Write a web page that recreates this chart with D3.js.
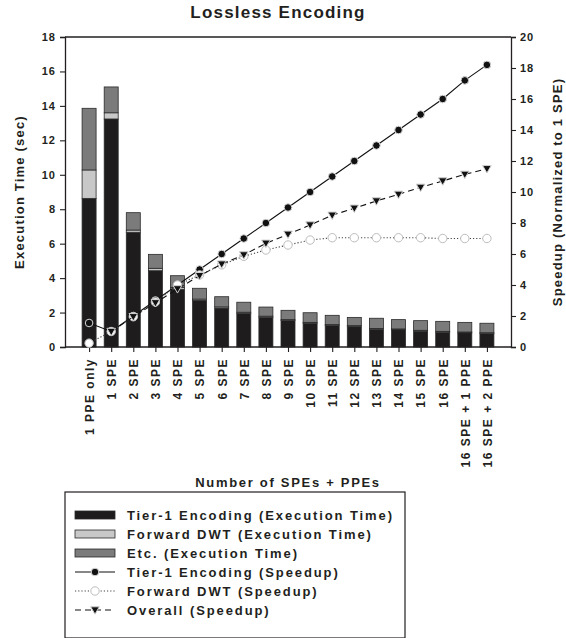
<!DOCTYPE html>
<html><head><meta charset="utf-8">
<script src="https://cdn.jsdelivr.net/npm/d3@7"></script>
<style>
body{margin:0;background:#fff;}
text{font-family:"Liberation Sans",Arial,sans-serif;font-weight:bold;fill:#231f20;}
</style></head>
<body><svg id="c" width="566" height="638"></svg>
<script>
const categories = ["1 PPE only","1 SPE","2 SPE","3 SPE","4 SPE","5 SPE","6 SPE","7 SPE","8 SPE","9 SPE","10 SPE","11 SPE","12 SPE","13 SPE","14 SPE","15 SPE","16 SPE","16 SPE + 1 PPE","16 SPE + 2 PPE"];
const tier1Time = [8.63,13.24,6.66,4.43,3.35,2.70,2.26,1.96,1.73,1.54,1.38,1.25,1.19,1.03,1.00,0.92,0.86,0.82,0.78];
const fdwtTime  = [1.65,0.36,0.13,0.14,0.10,0.08,0.07,0.06,0.06,0.05,0.05,0.05,0.05,0.05,0.05,0.05,0.05,0.05,0.05];
const etcTime   = [3.58,1.50,1.01,0.81,0.69,0.63,0.59,0.58,0.53,0.54,0.56,0.54,0.48,0.59,0.54,0.56,0.58,0.56,0.55];
const tier1Speedup = [1.55,1,2,3,4,5,6,7,8,9,10,11,12,13,14,15,16,17.2,18.2];
const fdwtSpeedup  = [0.25,1.0,1.95,2.9,4.0,4.65,5.3,5.85,6.26,6.58,6.9,7.05,7.05,7.05,7.05,7.05,7.0,7.0,7.0];
const overallSpeedup = [null,1.0,1.95,2.85,3.75,4.6,5.35,5.94,6.69,7.27,7.87,8.5,8.95,9.42,9.85,10.3,10.71,11.14,11.5];
const leftTicks = [0,2,4,6,8,10,12,14,16,18];
const rightTicks = [0,2,4,6,8,10,12,14,16,18,20];
const seriesNames = ["Tier-1 Encoding (Execution Time)","Forward DWT (Execution Time)","Etc. (Execution Time)","Tier-1 Encoding (Speedup)","Forward DWT (Speedup)","Overall (Speedup)"];

const svg = d3.select("#c");
const L=65, R=511, T=37, B=347;
const ink="#231f20";
const x = d3.scalePoint().domain(categories).range([L,R]).padding(1.09);
const yL = d3.scaleLinear().domain([0,18]).range([B,T]);
const yR = d3.scaleLinear().domain([0,20]).range([B,T]);
const colors = {t:"#1f1c1d", f:"#c8c8c8", e:"#7b7b7b"};

// bars
const rows = categories.map((c,i)=>({cat:c,t:tier1Time[i],f:fdwtTime[i],e:etcTime[i]}));
const stack = d3.stack().keys(["t","f","e"])(rows);
const bw = 14;
svg.append("g").selectAll("g").data(stack).join("g")
  .attr("fill",d=>colors[d.key])
  .selectAll("rect").data(d=>d).join("rect")
  .attr("x",d=>x(d.data.cat)-bw/2).attr("width",bw)
  .attr("y",d=>yL(d[1])).attr("height",d=>yL(d[0])-yL(d[1]))
  .attr("stroke","#2a2a2a").attr("stroke-width",0.8);

// axes
const gl = svg.append("g").attr("transform",`translate(${L},0)`)
  .call(d3.axisLeft(yL).tickValues(leftTicks).tickSize(5).tickPadding(4));
const gr = svg.append("g").attr("transform",`translate(${R},0)`)
  .call(d3.axisRight(yR).tickValues(rightTicks).tickSize(5).tickPadding(4));
const gx = svg.append("g").attr("transform",`translate(0,${B})`)
  .call(d3.axisBottom(x).tickSize(5).tickPadding(4));
[gl,gr,gx].forEach(g=>{
  g.selectAll("path").attr("stroke",ink).attr("stroke-width",1.3);
  g.selectAll("line").attr("stroke",ink).attr("stroke-width",1.1);
  g.selectAll("text").attr("font-family","Liberation Sans, Arial, sans-serif").attr("font-weight","bold").attr("fill",ink);
});
gl.selectAll("text").attr("font-size",11).style("letter-spacing","1px");
gr.selectAll("text").attr("font-size",11).style("letter-spacing","1px");
gx.select(".domain").attr("d",`M${L},0H${R}`);
gx.selectAll("text").attr("font-size",12).style("letter-spacing","1.5px")
  .attr("text-anchor","end").attr("transform","rotate(-90)")
  .attr("x",-11).attr("y",0).attr("dy","0.36em");
svg.append("line").attr("x1",L).attr("x2",R).attr("y1",T).attr("y2",T).attr("stroke",ink).attr("stroke-width",1.3);

// lines
function drawSeries(vals, dash, color, marker){
  const pts = vals.map((v,i)=>({c:categories[i],v})).filter(d=>d.v!=null);
  const line = d3.line().x(d=>x(d.c)).y(d=>yR(d.v));
  svg.append("path").datum(pts).attr("d",line).attr("fill","none")
    .attr("stroke",color).attr("stroke-width",1.1).attr("stroke-dasharray",dash);
  const g = svg.append("g");
  pts.forEach(d=>marker(g, x(d.c), yR(d.v)));
}
const mCircleB=(g,cx,cy)=>g.append("circle").attr("cx",cx).attr("cy",cy).attr("r",3.8).attr("fill","#111").attr("stroke","#d8d8d8").attr("stroke-width",1);
const mCircleW=(g,cx,cy)=>g.append("circle").attr("cx",cx).attr("cy",cy).attr("r",4.2).attr("fill","#fff").attr("stroke","#bdbdbd").attr("stroke-width",1);
const mTri=(g,cx,cy)=>g.append("path").attr("d",`M${cx-4.3},${cy-3.2}L${cx+4.3},${cy-3.2}L${cx},${cy+4.2}Z`).attr("fill","#111").attr("stroke","#d0d0d0").attr("stroke-width",1);
drawSeries(tier1Speedup, null, "#111", mCircleB);
drawSeries(fdwtSpeedup, "1.2,2", "#444", mCircleW);
drawSeries(overallSpeedup, "6,4", "#111", mTri);

// titles
svg.append("text").attr("x",278).attr("y",18).attr("text-anchor","middle").attr("font-size",17).style("letter-spacing","1.2px").text("Lossless Encoding");
svg.append("text").attr("transform",`translate(19,${(T+B)/2}) rotate(-90)`).attr("text-anchor","middle").attr("dy","0.35em").attr("font-size",13).style("letter-spacing","1.2px").text("Execution Time (sec)");
svg.append("text").attr("transform",`translate(557,${(T+B)/2}) rotate(-90)`).attr("text-anchor","middle").attr("dy","0.35em").attr("font-size",13).style("letter-spacing","1.2px").text("Speedup (Normalized to 1 SPE)");
svg.append("text").attr("x",288).attr("y",487).attr("text-anchor","middle").attr("font-size",13).style("letter-spacing","1.7px").text("Number of SPEs + PPEs");

// legend
const lg = svg.append("g");
lg.append("rect").attr("x",65).attr("y",492).attr("width",340).attr("height",146).attr("fill","#fff").attr("stroke",ink).attr("stroke-width",1.2);
const rowY = i => 515 + i*19;
const swatchFills = [colors.t, colors.f, colors.e];
seriesNames.forEach((name,i)=>{
  const cy = rowY(i);
  if(i<3){
    lg.append("rect").attr("x",75).attr("y",cy-4).attr("width",40).attr("height",8).attr("fill",swatchFills[i]).attr("stroke","#2a2a2a").attr("stroke-width",0.8);
  } else {
    const dash = [null,"1.2,2","6,4"][i-3];
    lg.append("line").attr("x1",75).attr("x2",115).attr("y1",cy).attr("y2",cy).attr("stroke",i===4?"#444":"#111").attr("stroke-width",1.1).attr("stroke-dasharray",dash);
    [mCircleB,mCircleW,mTri][i-3](lg,95,cy);
  }
  lg.append("text").attr("x",127).attr("y",cy).attr("dy","0.36em").attr("font-size",13).style("letter-spacing","1.9px").text(name);
});
</script></body></html>
